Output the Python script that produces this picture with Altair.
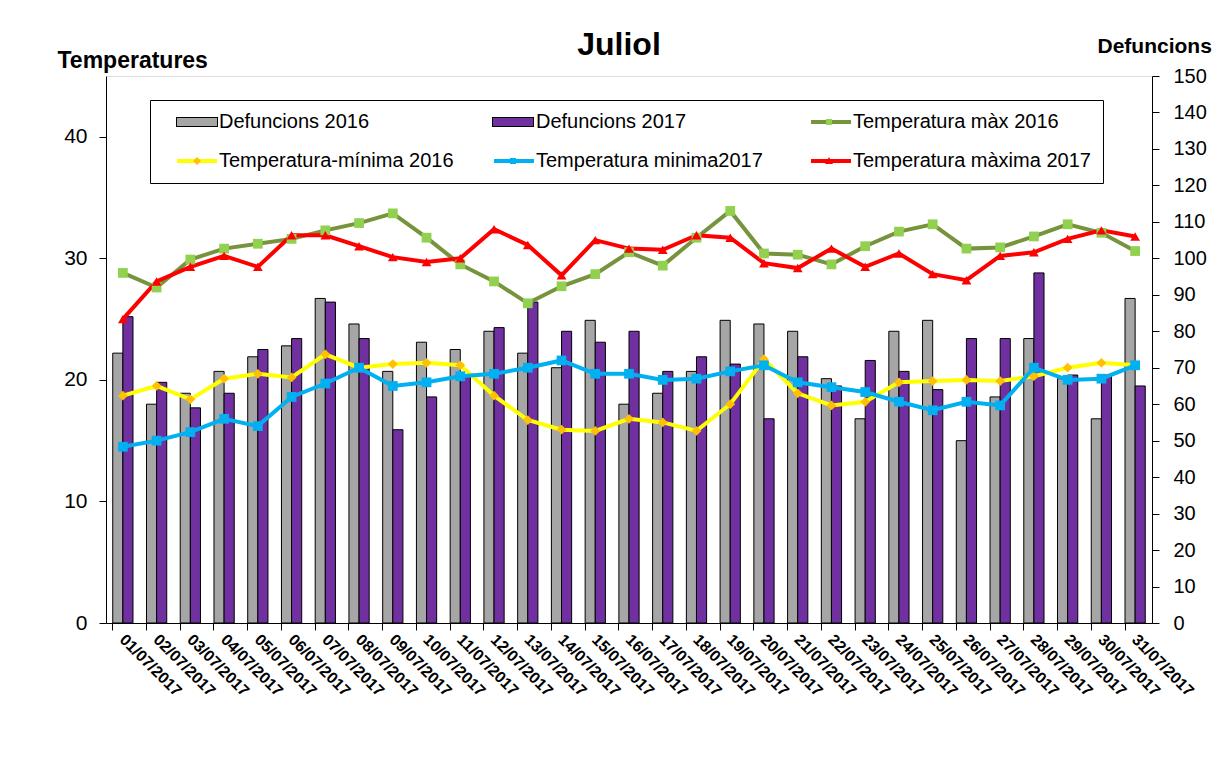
import altair as alt
import pandas as pd

days = ["%02d/07/2017" % d for d in range(1, 32)]

def2016 = [74, 60, 63, 69, 73, 76, 89, 82, 69, 77, 75, 80, 74, 70, 83, 60, 63, 69, 83, 82,
           80, 67, 56, 80, 83, 50, 62, 78, 67, 56, 89]
def2017 = [84, 66, 59, 63, 75, 78, 88, 78, 53, 62, 68, 81, 88, 80, 77, 80, 69, 73, 71, 56,
           73, 65, 72, 69, 64, 78, 78, 96, 68, 68, 65]
tmax2016 = [28.8, 27.6, 29.9, 30.8, 31.2, 31.6, 32.3, 32.9, 33.7, 31.7, 29.5, 28.1, 26.3, 27.7,
            28.7, 30.5, 29.4, 31.7, 33.9, 30.4, 30.3, 29.5, 31.0, 32.2, 32.8, 30.8, 30.9, 31.8,
            32.8, 32.1, 30.6]
tmin2016 = [18.7, 19.5, 18.4, 20.1, 20.5, 20.2, 22.1, 21.0, 21.3, 21.4, 21.2, 18.7, 16.7, 15.9,
            15.8, 16.8, 16.5, 15.8, 18.0, 21.7, 18.9, 17.9, 18.2, 19.8, 19.9, 20.0, 19.9, 20.3,
            21.0, 21.4, 21.2]
tmin2017 = [14.5, 15.0, 15.7, 16.8, 16.2, 18.6, 19.7, 21.0, 19.5, 19.8, 20.3, 20.5, 21.0, 21.6,
            20.5, 20.5, 20.0, 20.1, 20.7, 21.2, 19.8, 19.4, 19.0, 18.2, 17.5, 18.2, 17.9, 21.0,
            20.0, 20.1, 21.2]
tmax2017 = [25.0, 28.1, 29.3, 30.2, 29.3, 31.9, 31.9, 31.0, 30.1, 29.7, 30.0, 32.4, 31.1, 28.6,
            31.5, 30.8, 30.7, 31.9, 31.7, 29.6, 29.2, 30.8, 29.3, 30.4, 28.7, 28.2, 30.2, 30.5,
            31.6, 32.3, 31.8]

series = ["Defuncions 2016", "Defuncions 2017", "Temperatura màx 2016",
          "Temperatura-mínima 2016", "Temperatura minima2017", "Temperatura màxima 2017"]
bar_colors = ["#A6A6A6", "#7030A0"]
line_colors = ["#77933C", "#FFFF00", "#00B0F0", "#FF0000"]
marker_fill = ["#92D050", "#FFC000", "#00B0F0", "#FF0000"]
marker_shape = ["square", "diamond", "square", "triangle-up"]

# legend symbol shapes (custom paths; 1 unit = 10px with symbol size 400)
NONE = "M0,0Z"
BAR_EDGE = "M-2.1,-0.5L2.1,-0.5L2.1,0.5L-2.1,0.5Z"
BAR_SYM = "M-2,-0.4L2,-0.4L2,0.4L-2,0.4Z"
LINE_SYM = "M-2,-0.2L2,-0.2L2,0.2L-2,0.2Z"
SQ_SYM = "M-0.3,-0.3L0.3,-0.3L0.3,0.3L-0.3,0.3Z"
DI_SYM = "M0,-0.4L0.4,0L0,0.4L-0.4,0Z"
TR_SYM = "M0,-0.4L0.4,0.3L-0.4,0.3Z"
T = "transparent"

FONT = "Liberation Sans"
MAX_LABEL_W = 237  # rendered width of the longest legend label

bars_df = pd.DataFrame(
    [{"day": d, "serie": series[0], "v": v} for d, v in zip(days, def2016)]
    + [{"day": d, "serie": series[1], "v": v} for d, v in zip(days, def2017)]
)
temps_df = pd.concat([
    pd.DataFrame({"day": days, "serie": series[2], "t": tmax2016}),
    pd.DataFrame({"day": days, "serie": series[3], "t": tmin2016}),
    pd.DataFrame({"day": days, "serie": series[4], "t": tmin2017}),
    pd.DataFrame({"day": days, "serie": series[5], "t": tmax2017}),
])
legend_df = pd.DataFrame({"serie": series})


def make_legend(main, zindex):
    kw = dict(
        title=None, orient="none", legendX=44, legendY=24, columns=3, direction="horizontal",
        gridAlign="all", labelFont=FONT, labelFontSize=20, labelColor="black", labelLimit=500,
        symbolSize=400, symbolOffset=25, symbolOpacity=1,
        columnPadding=22, rowPadding=19, padding=12, zindex=zindex,
        symbolStrokeColor=T, symbolStrokeWidth=0,
    )
    if main:
        kw.update(strokeColor="black", fillColor="white", labelOffset=12)
    else:
        kw.update(labelExpr="''", labelOffset=12 + MAX_LABEL_W)
    return alt.Legend(**kw)


def legend_layer(fills, shapes, leg):
    return alt.Chart(legend_df).transform_filter("false").mark_point(
        filled=True, size=400, opacity=1
    ).encode(
        fill=alt.Fill("serie:N", scale=alt.Scale(domain=series, range=fills), legend=leg),
        shape=alt.Shape("serie:N", scale=alt.Scale(domain=series, range=shapes), legend=leg),
    )


legA = legend_layer([T, T] + line_colors, [NONE, NONE] + [LINE_SYM] * 4, make_legend(True, 1))
legD = legend_layer(["black", "black"] + [T] * 4, [BAR_EDGE, BAR_EDGE] + [NONE] * 4,
                    make_legend(False, 2))
legB = legend_layer(bar_colors + [T] * 4, [BAR_SYM, BAR_SYM] + [NONE] * 4, make_legend(False, 3))
legC = legend_layer([T, T] + marker_fill, [NONE, NONE, SQ_SYM, DI_SYM, SQ_SYM, TR_SYM],
                    make_legend(False, 4))

xenc = alt.X("day:N", sort=days, title=None,
             scale=alt.Scale(paddingInner=0.4, paddingOuter=0.2),
             axis=alt.Axis(labelAngle=45, labelAlign="left", labelBaseline="top",
                           labelFont=FONT, labelFontSize=16, labelFontWeight="bold",
                           labelColor="black", labelPadding=1, bandPosition=0, labelOffset=5,
                           tickSize=7, tickColor="black", domainColor="black", labelOverlap=False))

left_axis = alt.Axis(orient="left", values=[0, 10, 20, 30, 40], grid=False,
                     labelFont=FONT, labelFontSize=21, labelColor="black", labelPadding=12,
                     tickSize=7, tickColor="black", domainColor="black",
                     title="Temperatures", titleAngle=0, titleAlign="left",
                     titleBaseline="alphabetic", titleX=-49, titleY=-9,
                     titleFont=FONT, titleFontSize=23, titleFontWeight="bold", titleColor="black")
right_axis = alt.Axis(orient="right", values=list(range(0, 151, 10)), grid=False,
                      labelFont=FONT, labelFontSize=20, labelColor="black", labelPadding=14,
                      tickSize=7, tickColor="black", domainColor="black",
                      title="Defuncions", titleAngle=0, titleAlign="left",
                      titleBaseline="alphabetic", titleX=-55, titleY=-24,
                      titleFont=FONT, titleFontSize=21, titleFontWeight="bold", titleColor="black")

bars = alt.Chart(bars_df).mark_bar(stroke="black", strokeWidth=1, opacity=1).encode(
    x=xenc,
    xOffset=alt.XOffset("serie:N", sort=series[:2], scale=alt.Scale(paddingInner=0, paddingOuter=0)),
    y=alt.Y("v:Q", scale=alt.Scale(domain=[0, 150], nice=False), axis=right_axis),
    fill=alt.Fill("serie:N", scale=alt.Scale(domain=series[:2], range=bar_colors), legend=None),
)

ytemp = alt.Y("t:Q", scale=alt.Scale(domain=[0, 45], nice=False), axis=left_axis)

lines = alt.Chart(temps_df).mark_line(strokeWidth=4).encode(
    x=xenc, y=ytemp,
    color=alt.Color("serie:N", scale=alt.Scale(domain=series[2:], range=line_colors), legend=None),
)
points = alt.Chart(temps_df).mark_point(filled=True, size=95, opacity=1).encode(
    x=xenc, y=ytemp,
    fill=alt.Fill("serie:N", scale=alt.Scale(domain=series[2:], range=marker_fill), legend=None),
    shape=alt.Shape("serie:N", scale=alt.Scale(domain=series[2:], range=marker_shape), legend=None),
)
temps = alt.layer(lines, points)

chart = alt.layer(bars, temps, legA, legD, legB, legC).resolve_scale(
    y="independent", fill="independent", shape="independent", color="independent"
).properties(
    width=1046, height=547,
    padding={"left": 98, "top": 68, "right": 69, "bottom": 132},
    autosize=alt.AutoSizeParams(type="none"),
    title=alt.TitleParams("Juliol", font=FONT, fontSize=32, fontWeight="bold", color="black",
                          anchor="middle", frame="group", offset=0, dy=27, dx=-10),
).configure_view(stroke="#808080", strokeWidth=1).configure(background="white")

chart.save("out.html", embed_options={"renderer": "svg", "actions": False})
